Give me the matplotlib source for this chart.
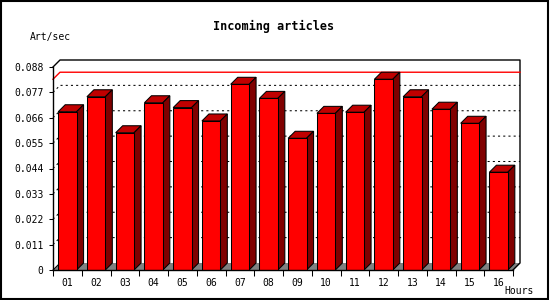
import matplotlib
matplotlib.use("Agg")
import matplotlib.pyplot as plt
from matplotlib.patches import Polygon, Rectangle

# data
hours = ["01", "02", "03", "04", "05", "06", "07", "08",
         "09", "10", "11", "12", "13", "14", "15", "16"]
art_per_sec = [0.0686, 0.0751, 0.0595, 0.0725, 0.0704, 0.0646, 0.0805, 0.0744,
               0.0571, 0.0679, 0.0684, 0.0827, 0.0751, 0.0697, 0.0636, 0.0424]
y_ticks = [0, 0.011, 0.022, 0.033, 0.044, 0.055, 0.066, 0.077, 0.088]
y_tick_labels = ["0", "0.011", "0.022", "0.033", "0.044", "0.055", "0.066", "0.077", "0.088"]

FONT = "DejaVu Sans Mono"
RED = "#ff0000"
TOP = "#c00000"
SIDE = "#800000"
FLOOR = "#808080"
DEPTH_PX = 7

fig = plt.figure(figsize=(5.5, 3.0), dpi=100)
fig.patch.set_facecolor("white")
ax = fig.add_axes([53 / 550, 30 / 300, 460 / 550, 203 / 300])
ax.set_facecolor("none")
n = len(hours)
ymax = y_ticks[-1]
ax.set_xlim(-0.5, n - 0.5)
ax.set_ylim(0, ymax)

# depth offset in data units (7 px right, 7 px up)
p0 = ax.transData.transform((0, 0))
dx, dy = ax.transData.inverted().transform(p0 + [DEPTH_PX, DEPTH_PX])
x0, x1 = -0.5, n - 0.5

# floor
ax.add_patch(Polygon([(x0, 0), (x1, 0), (x1 + dx, dy), (x0 + dx, dy)],
                     closed=True, facecolor=FLOOR, edgecolor="none", zorder=1, clip_on=False))

# back wall frame
ax.plot([x0, x0 + dx, x1 + dx, x1 + dx, x1], [ymax, ymax + dy, ymax + dy, dy, 0],
        color="black", lw=1, zorder=2, clip_on=False)
ax.plot([x0, x0 + dx], [0, dy], color="black", lw=0.75, zorder=2, clip_on=False)

# dotted grid on left and back walls
for v in y_ticks[1:-1]:
    ax.plot([x0, x0 + dx, x1 + dx], [v, v + dy, v + dy], color="black", lw=0.75,
            linestyle=(0, (2, 3)), zorder=2, clip_on=False)

# max line
vmax = max(art_per_sec)
ax.plot([x0, x0 + dx, x1 + dx], [vmax, vmax + dy, vmax + dy], color=RED, lw=1,
        zorder=2, clip_on=False)

# bars
w = 0.64
ax.bar(range(n), art_per_sec, width=w, color=RED, edgecolor="black", linewidth=0.75, zorder=4)
for i, v in enumerate(art_per_sec):
    a, b = i - w / 2, i + w / 2
    ax.add_patch(Polygon([(a, v), (b, v), (b + dx, v + dy), (a + dx, v + dy)], closed=True,
                         facecolor=TOP, edgecolor="black", lw=0.75, zorder=3, clip_on=False))
    ax.add_patch(Polygon([(b, 0), (b, v), (b + dx, v + dy), (b + dx, dy)], closed=True,
                         facecolor=SIDE, edgecolor="black", lw=0.75, zorder=3, clip_on=False))

# axes
for s in ["top", "right"]:
    ax.spines[s].set_visible(False)
for s in ["left", "bottom"]:
    ax.spines[s].set_linewidth(1)
    ax.spines[s].set_zorder(5)
ax.set_yticks(y_ticks)
ax.set_yticklabels(y_tick_labels, fontfamily=FONT, fontsize=7)
ax.tick_params(axis="y", length=3, width=0.75, pad=4)
ax.set_xticks(range(n))
ax.set_xticklabels(hours, fontfamily=FONT, fontsize=7)
ax.set_xticks([k - 0.5 for k in range(n + 1)], minor=True)
ax.tick_params(axis="x", which="major", length=0, pad=6)
ax.tick_params(axis="x", which="minor", length=4, width=0.75)

# texts
fig.text(274 / 550, 1 - 26 / 300, "Incoming articles", ha="center", va="center",
         fontfamily=FONT, fontsize=8.5, fontweight="bold")
fig.text(30 / 550, 1 - 37 / 300, "Art/sec", ha="left", va="center", fontfamily=FONT, fontsize=7)
fig.text(504 / 550, 1 - 291 / 300, "Hours", ha="left", va="center", fontfamily=FONT, fontsize=7)

# outer frame
fig.add_artist(Rectangle((0.8 / 550, 1 / 300), 547.5 / 550, 298 / 300, fill=False,
                         edgecolor="black", lw=1.5, transform=fig.transFigure))

fig.savefig("out.png", dpi=100)
